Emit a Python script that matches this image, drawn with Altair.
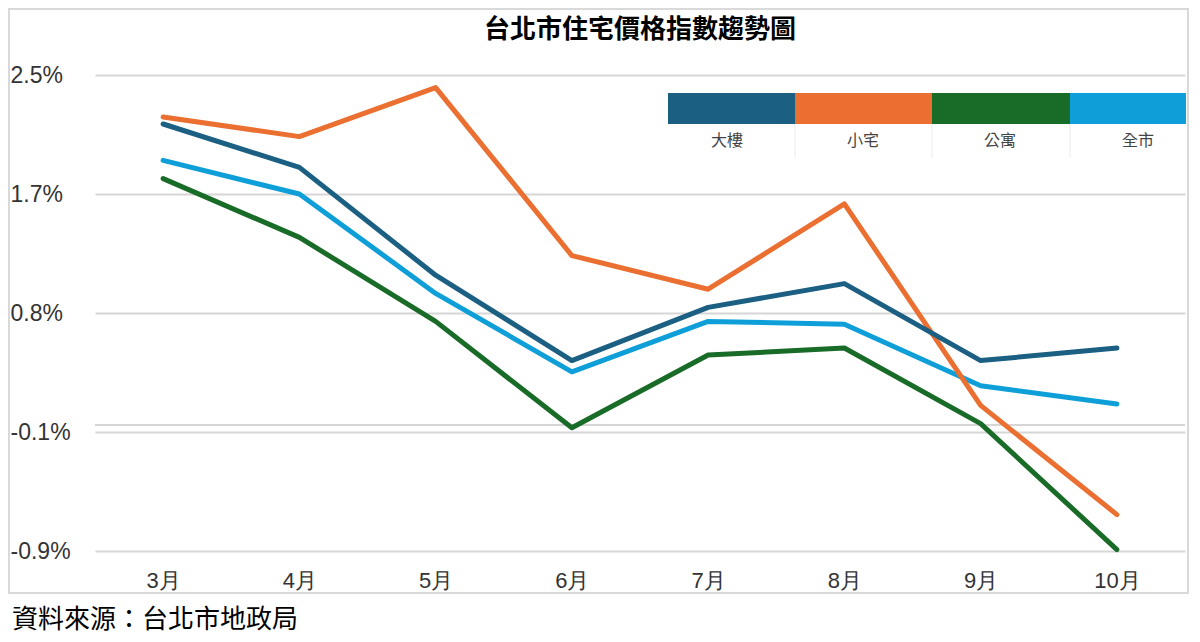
import altair as alt
import pandas as pd

# ---- data ----
months = ["3月", "4月", "5月", "6月", "7月", "8月", "9月", "10月"]
series = ["大樓", "小宅", "公寓", "全市"]
tower = [2.15, 1.84, 1.07, 0.46, 0.84, 1.01, 0.46, 0.55]
small = [2.20, 2.06, 2.41, 1.21, 0.97, 1.58, 0.14, -0.64]
apartment = [1.76, 1.34, 0.74, -0.02, 0.50, 0.55, 0.01, -0.89]
city = [1.89, 1.65, 0.94, 0.38, 0.74, 0.72, 0.28, 0.15]
colors = ["#1b5f83", "#eb6f30", "#196b28", "#0e9fd9"]
y_ticks = [2.5, 1.65, 0.8, -0.05, -0.9]
y_tick_labels = ["2.5%", "1.7%", "0.8%", "-0.1%", "-0.9%"]
title_text = "台北市住宅價格指數趨勢圖"
source_text = "資料來源：台北市地政局"

values_by_series = dict(zip(series, [tower, small, apartment, city]))
rows = []
for s in series:
    for m, v in zip(months, values_by_series[s]):
        rows.append({"month": m, "series": s, "value": v})
df = pd.DataFrame(rows)

# ---- layout (pixels, plot coordinates) ----
W, H = 1090, 476
CJK = "Noto Sans CJK TC"
LAT = "Liberation Sans"
GRID = "#d6d6d6"

label_expr = " : ".join(
    f"datum.value == {v} ? '{t}'" for v, t in zip(y_ticks, y_tick_labels)
) + " : ''"

x_enc = alt.X(
    "month:O", sort=months, scale=alt.Scale(padding=0.5),
    axis=alt.Axis(title=None, labelAngle=0, ticks=False, domain=False, grid=False,
                  labelFontSize=22, labelFont=LAT, labelColor="#333333",
                  labelPadding=19),
)
y_enc = alt.Y(
    "value:Q", scale=alt.Scale(domain=[-0.9, 2.5], nice=False, zero=False),
    axis=alt.Axis(title=None, values=y_ticks, labelExpr=label_expr, ticks=False,
                  domain=False, grid=True, gridColor=GRID, gridWidth=2,
                  labelAlign="left", labelPadding=85, labelFontSize=23,
                  labelFont=LAT, labelColor="#333333"),
)
color_enc = alt.Color("series:N", scale=alt.Scale(domain=series, range=colors), legend=None)

one = pd.DataFrame({"a": [0]})

frame = alt.Chart(one).mark_rect(fillOpacity=0, stroke="#d9d9d9", strokeWidth=2).encode(
    x=alt.value(-86), x2=alt.value(1093), y=alt.value(-66), y2=alt.value(518)
)
zero_rule = alt.Chart(one).mark_rule(color=GRID, strokeWidth=2).encode(y=alt.datum(0))

draw_order = ["全市", "公寓", "小宅", "大樓"]
line_layers = []
for s in draw_order:
    line_layers.append(
        alt.Chart(df).transform_filter(alt.datum.series == s)
        .mark_line(strokeWidth=5, strokeCap="round", strokeJoin="round")
        .encode(x=x_enc, y=y_enc, color=color_enc)
    )

# custom legend (decoration)
cell_edges = [573, 700, 837, 975, 1091]
label_centers = [632, 768, 905, 1043]
legend_layers = []
for i, s in enumerate(series):
    legend_layers.append(
        alt.Chart(one).mark_rect(color=colors[i]).encode(
            x=alt.value(cell_edges[i]), x2=alt.value(cell_edges[i + 1]),
            y=alt.value(18), y2=alt.value(49))
    )
    legend_layers.append(
        alt.Chart(pd.DataFrame({"label": [s]})).mark_text(
            font=CJK, fontSize=16, color="#444444", baseline="middle", align="center"
        ).encode(text="label:N", x=alt.value(label_centers[i]), y=alt.value(66))
    )
for xe in cell_edges[1:4]:
    legend_layers.append(
        alt.Chart(one).mark_rule(color="#ebebeb", strokeWidth=1).encode(
            x=alt.value(xe), y=alt.value(49), y2=alt.value(83))
    )

title = alt.Chart(pd.DataFrame({"label": [title_text]})).mark_text(
    font=CJK, fontSize=26, fontWeight="bold", color="#000000", align="center",
    baseline="middle"
).encode(text="label:N", x=alt.value(545), y=alt.value(-45))

source = alt.Chart(pd.DataFrame({"label": [source_text]})).mark_text(
    font=CJK, fontSize=26, color="#000000", align="left", baseline="middle"
).encode(text="label:N", x=alt.value(-83), y=alt.value(545))

chart = alt.layer(frame, zero_rule, *line_layers, *legend_layers, title, source).properties(
    width=W, height=H,
    padding={"left": 87, "top": 67, "right": 7, "bottom": 83},
    autosize="none",
).configure_view(stroke=None)

chart.save("out.html", embed_options={"renderer": "svg", "actions": False})
